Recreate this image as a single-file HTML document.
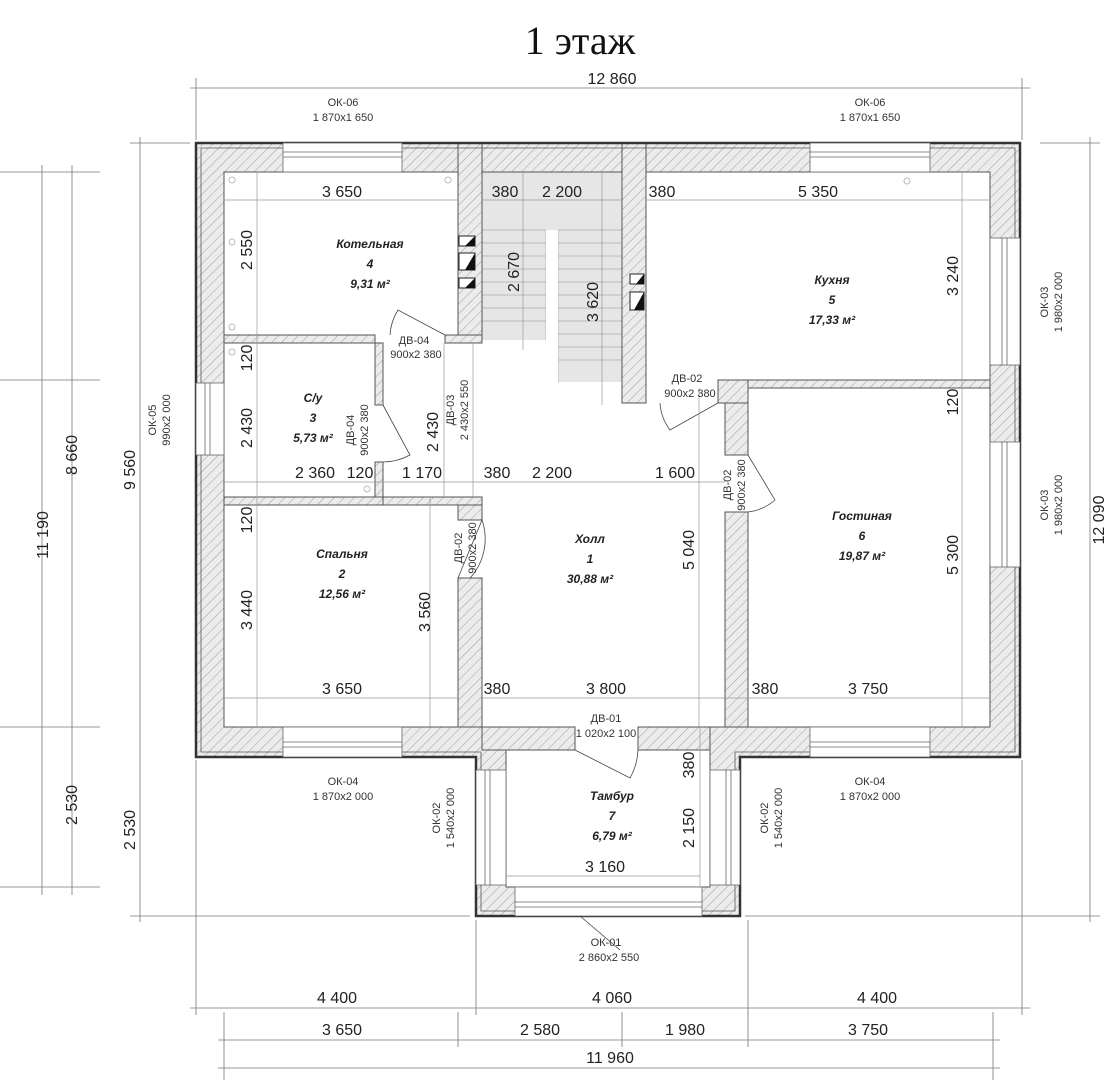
<!DOCTYPE html>
<html><head><meta charset="utf-8"><style>
body{margin:0;background:#fff}
svg{display:block}
.d{font-family:"Liberation Sans",sans-serif;font-size:16px;fill:#222}
.l{font-family:"Liberation Sans",sans-serif;font-size:11px;fill:#333}
.r{font-family:"Liberation Sans",sans-serif;font-size:12px;font-weight:bold;font-style:italic;fill:#222}
</style></head><body>
<svg width="1118" height="1080" viewBox="0 0 1118 1080" xmlns="http://www.w3.org/2000/svg">
<defs>
<pattern id="h" width="7" height="7" patternUnits="userSpaceOnUse" patternTransform="rotate(45)">
<rect width="7" height="7" fill="#ececec"/><line x1="0" y1="0" x2="0" y2="7" stroke="#8a8a8a" stroke-width="0.8"/>
</pattern>
</defs>
<text x="580" y="54" text-anchor="middle" font-family="Liberation Serif,serif" font-size="40" fill="#111">1 этаж</text>

<!-- stair grey -->
<rect x="482" y="172" width="140" height="210" fill="#e6e6e6"/>
<rect x="482" y="172" width="140" height="58" fill="#e6e6e6"/>
<g stroke="#aaa" stroke-width="0.8">
<line x1="546" y1="230" x2="546" y2="340"/><line x1="558" y1="230" x2="558" y2="383"/>
<line x1="482" y1="230" x2="546" y2="230"/><line x1="558" y1="230" x2="622" y2="230"/>
<line x1="482" y1="243" x2="546" y2="243"/><line x1="482" y1="256" x2="546" y2="256"/><line x1="482" y1="269" x2="546" y2="269"/><line x1="482" y1="282" x2="546" y2="282"/><line x1="482" y1="295" x2="546" y2="295"/><line x1="482" y1="308" x2="546" y2="308"/><line x1="482" y1="321" x2="546" y2="321"/>
<line x1="558" y1="243" x2="622" y2="243"/><line x1="558" y1="256" x2="622" y2="256"/><line x1="558" y1="269" x2="622" y2="269"/><line x1="558" y1="282" x2="622" y2="282"/><line x1="558" y1="295" x2="622" y2="295"/><line x1="558" y1="308" x2="622" y2="308"/><line x1="558" y1="321" x2="622" y2="321"/><line x1="558" y1="334" x2="622" y2="334"/><line x1="558" y1="347" x2="622" y2="347"/><line x1="558" y1="360" x2="622" y2="360"/>
</g>
<rect x="482" y="340" width="76" height="43" fill="#fff"/>
<rect x="546" y="230" width="12" height="110" fill="#fff"/>

<!-- walls -->
<g fill="url(#h)" stroke="#555" stroke-width="1">
<!-- outer ring -->
<path d="M196 143 H1020 V757 H740 V916 H476 V757 H196 Z M224 172 V727 H506 V887 H710 V727 H990 V172 Z" fill-rule="evenodd"/>
<!-- interior -->
<rect x="458" y="143" width="24" height="200"/>
<rect x="224" y="335" width="151" height="8"/>
<rect x="445" y="335" width="37" height="8"/>
<rect x="375" y="343" width="8" height="62"/>
<rect x="375" y="462" width="8" height="43"/>
<rect x="224" y="497" width="159" height="8"/>
<rect x="383" y="497" width="99" height="8"/>
<rect x="458" y="505" width="24" height="15"/>
<rect x="458" y="578" width="24" height="149"/>
<rect x="622" y="143" width="24" height="260"/>
<rect x="718" y="380" width="30" height="23"/>
<rect x="725" y="403" width="23" height="52"/>
<rect x="725" y="512" width="23" height="215"/>
<rect x="748" y="380" width="242" height="8"/>
<rect x="482" y="727" width="93" height="23"/>
<rect x="638" y="727" width="72" height="23"/>
</g>
<!-- outer dark edge -->
<path d="M196 143 H1020 V757 H740 V916 H476 V757 H196 Z" fill="none" stroke="#333" stroke-width="2.5"/>
<path d="M201 148 H1015 V752 H735 V911 H481 V752 H201 Z" fill="none" stroke="#555" stroke-width="0.8"/>

<!-- windows -->
<g fill="#fff" stroke="#666" stroke-width="0.8">
<rect x="283" y="143" width="119" height="29"/><line x1="283" y1="152" x2="402" y2="152"/><line x1="283" y1="157" x2="402" y2="157"/>
<rect x="810" y="143" width="120" height="29"/><line x1="810" y1="152" x2="930" y2="152"/><line x1="810" y1="157" x2="930" y2="157"/>
<rect x="283" y="727" width="119" height="30"/><line x1="283" y1="742" x2="402" y2="742"/><line x1="283" y1="747" x2="402" y2="747"/>
<rect x="810" y="727" width="120" height="30"/><line x1="810" y1="742" x2="930" y2="742"/><line x1="810" y1="747" x2="930" y2="747"/>
<rect x="196" y="383" width="28" height="72"/><line x1="205" y1="383" x2="205" y2="455"/><line x1="210" y1="383" x2="210" y2="455"/>
<rect x="990" y="238" width="30" height="127"/><line x1="1002" y1="238" x2="1002" y2="365"/><line x1="1007" y1="238" x2="1007" y2="365"/>
<rect x="990" y="442" width="30" height="125"/><line x1="1002" y1="442" x2="1002" y2="567"/><line x1="1007" y1="442" x2="1007" y2="567"/>
<rect x="476" y="770" width="30" height="115"/><line x1="485" y1="770" x2="485" y2="885"/><line x1="490" y1="770" x2="490" y2="885"/>
<rect x="710" y="770" width="30" height="115"/><line x1="726" y1="770" x2="726" y2="885"/><line x1="731" y1="770" x2="731" y2="885"/>
<rect x="515" y="887" width="187" height="29"/><line x1="515" y1="902" x2="702" y2="902"/><line x1="515" y1="907" x2="702" y2="907"/>
</g>

<!-- doors -->
<g fill="none" stroke="#444" stroke-width="0.8">
<path d="M445 335 L398 310 A53 53 0 0 0 390 335"/>
<path d="M383 405 L410 455 A57 57 0 0 1 383 462"/>
<path d="M482 520 L458 578 M482 520 A58 58 0 0 1 470 578"/>
<path d="M718 403 L670 430 A50 50 0 0 1 660 403"/>
<path d="M748 455 L775 500 A50 50 0 0 1 748 512"/>
<path d="M575 750 L630 778 A62 62 0 0 0 638 750"/>
<path d="M580 916 L620 950"/>
</g>
<!-- vent blocks -->
<g fill="#fff" stroke="#222" stroke-width="1">
<rect x="459" y="236" width="16" height="10"/><rect x="459" y="253" width="16" height="17"/><rect x="459" y="278" width="16" height="10"/>
<rect x="630" y="274" width="14" height="10"/><rect x="630" y="292" width="14" height="18"/>
</g>
<g fill="#111"><path d="M475 236 V246 H465Z"/><path d="M475 253 V270 H465Z"/><path d="M475 278 V288 H465Z"/><path d="M644 274 V284 H636Z"/><path d="M644 292 V310 H634Z"/></g>
<g fill="none" stroke="#bbb"><circle cx="232" cy="180" r="3"/><circle cx="448" cy="180" r="3"/><circle cx="232" cy="242" r="3"/><circle cx="232" cy="327" r="3"/><circle cx="232" cy="352" r="3"/><circle cx="367" cy="489" r="3"/><circle cx="907" cy="181" r="3"/></g>

<!-- inner dimension lines -->
<g stroke="#999" stroke-width="0.7">
<line x1="224" y1="200" x2="458" y2="200"/><line x1="482" y1="200" x2="622" y2="200"/><line x1="646" y1="200" x2="990" y2="200"/>
<line x1="224" y1="482" x2="725" y2="482"/>
<line x1="224" y1="698" x2="458" y2="698"/><line x1="482" y1="698" x2="990" y2="698"/>
<line x1="506" y1="876" x2="700" y2="876"/>
<line x1="257" y1="172" x2="257" y2="727"/><line x1="430" y1="497" x2="430" y2="727"/>
<line x1="444" y1="343" x2="444" y2="497"/><line x1="473" y1="343" x2="473" y2="497"/>
<line x1="523" y1="172" x2="523" y2="350"/><line x1="602" y1="172" x2="602" y2="405"/>
<line x1="962" y1="172" x2="962" y2="727"/><line x1="699" y1="388" x2="699" y2="727"/><line x1="700" y1="727" x2="700" y2="887"/>
</g>
<g class="d">
<text x="342" y="197" text-anchor="middle">3 650</text>
<text x="505" y="197" text-anchor="middle">380</text><text x="562" y="197" text-anchor="middle">2 200</text>
<text x="662" y="197" text-anchor="middle">380</text><text x="818" y="197" text-anchor="middle">5 350</text>
<text x="315" y="478" text-anchor="middle">2 360</text><text x="360" y="478" text-anchor="middle">120</text><text x="422" y="478" text-anchor="middle">1 170</text>
<text x="497" y="478" text-anchor="middle">380</text><text x="552" y="478" text-anchor="middle">2 200</text><text x="675" y="478" text-anchor="middle">1 600</text>
<text x="342" y="694" text-anchor="middle">3 650</text><text x="497" y="694" text-anchor="middle">380</text><text x="606" y="694" text-anchor="middle">3 800</text>
<text x="765" y="694" text-anchor="middle">380</text><text x="868" y="694" text-anchor="middle">3 750</text>
<text x="605" y="872" text-anchor="middle">3 160</text>
<text transform="translate(252,250) rotate(-90)" text-anchor="middle">2 550</text>
<text transform="translate(252,358) rotate(-90)" text-anchor="middle">120</text>
<text transform="translate(252,428) rotate(-90)" text-anchor="middle">2 430</text>
<text transform="translate(252,520) rotate(-90)" text-anchor="middle">120</text>
<text transform="translate(252,610) rotate(-90)" text-anchor="middle">3 440</text>
<text transform="translate(430,612) rotate(-90)" text-anchor="middle">3 560</text>
<text transform="translate(438,432) rotate(-90)" text-anchor="middle">2 430</text>
<text transform="translate(519,272) rotate(-90)" text-anchor="middle">2 670</text>
<text transform="translate(598,302) rotate(-90)" text-anchor="middle">3 620</text>
<text transform="translate(694,550) rotate(-90)" text-anchor="middle">5 040</text>
<text transform="translate(694,765) rotate(-90)" text-anchor="middle">380</text>
<text transform="translate(694,828) rotate(-90)" text-anchor="middle">2 150</text>
<text transform="translate(958,276) rotate(-90)" text-anchor="middle">3 240</text>
<text transform="translate(958,402) rotate(-90)" text-anchor="middle">120</text>
<text transform="translate(958,555) rotate(-90)" text-anchor="middle">5 300</text>
</g>

<!-- room labels -->
<g class="r" text-anchor="middle">
<text x="370" y="248">Котельная</text><text x="370" y="268">4</text><text x="370" y="288">9,31 м²</text>
<text x="313" y="402">С/у</text><text x="313" y="422">3</text><text x="313" y="442">5,73 м²</text>
<text x="342" y="558">Спальня</text><text x="342" y="578">2</text><text x="342" y="598">12,56 м²</text>
<text x="590" y="543">Холл</text><text x="590" y="563">1</text><text x="590" y="583">30,88 м²</text>
<text x="832" y="284">Кухня</text><text x="832" y="304">5</text><text x="832" y="324">17,33 м²</text>
<text x="862" y="520">Гостиная</text><text x="862" y="540">6</text><text x="862" y="560">19,87 м²</text>
<text x="612" y="800">Тамбур</text><text x="612" y="820">7</text><text x="612" y="840">6,79 м²</text>
</g>

<!-- element labels -->
<g class="l" text-anchor="middle">
<text x="343" y="106">ОК-06</text><text x="343" y="121">1 870х1 650</text>
<text x="870" y="106">ОК-06</text><text x="870" y="121">1 870х1 650</text>
<text x="343" y="785">ОК-04</text><text x="343" y="800">1 870х2 000</text>
<text x="870" y="785">ОК-04</text><text x="870" y="800">1 870х2 000</text>
<text x="414" y="344">ДВ-04</text><text x="416" y="358">900х2 380</text>
<text x="687" y="382">ДВ-02</text><text x="690" y="397">900х2 380</text>
<text x="606" y="722">ДВ-01</text><text x="606" y="737">1 020х2 100</text>
<text x="606" y="946">ОК-01</text><text x="609" y="961">2 860х2 550</text>
<text transform="translate(354,430) rotate(-90)">ДВ-04</text><text transform="translate(368,430) rotate(-90)">900х2 380</text>
<text transform="translate(454,410) rotate(-90)">ДВ-03</text><text transform="translate(468,410) rotate(-90)">2 430х2 550</text>
<text transform="translate(462,548) rotate(-90)">ДВ-02</text><text transform="translate(476,548) rotate(-90)">900х2 380</text>
<text transform="translate(731,485) rotate(-90)">ДВ-02</text><text transform="translate(745,485) rotate(-90)">900х2 380</text>
<text transform="translate(156,420) rotate(-90)">ОК-05</text><text transform="translate(170,420) rotate(-90)">990х2 000</text>
<text transform="translate(1048,302) rotate(-90)">ОК-03</text><text transform="translate(1062,302) rotate(-90)">1 980х2 000</text>
<text transform="translate(1048,505) rotate(-90)">ОК-03</text><text transform="translate(1062,505) rotate(-90)">1 980х2 000</text>
<text transform="translate(440,818) rotate(-90)">ОК-02</text><text transform="translate(454,818) rotate(-90)">1 540х2 000</text>
<text transform="translate(768,818) rotate(-90)">ОК-02</text><text transform="translate(782,818) rotate(-90)">1 540х2 000</text>
</g>

<!-- outer dimension lines -->
<g stroke="#777" stroke-width="0.8">
<line x1="190" y1="88" x2="1030" y2="88"/><line x1="196" y1="78" x2="196" y2="140"/><line x1="1022" y1="78" x2="1022" y2="140"/>
<line x1="1090" y1="137" x2="1090" y2="922"/><line x1="1040" y1="143" x2="1100" y2="143"/><line x1="745" y1="916" x2="1100" y2="916"/>
<line x1="140" y1="137" x2="140" y2="922"/><line x1="130" y1="143" x2="190" y2="143"/><line x1="130" y1="916" x2="470" y2="916"/>
<line x1="0" y1="172" x2="100" y2="172"/><line x1="0" y1="380" x2="100" y2="380"/><line x1="0" y1="727" x2="100" y2="727"/><line x1="0" y1="887" x2="100" y2="887"/>
<line x1="42" y1="165" x2="42" y2="895"/><line x1="72" y1="165" x2="72" y2="895"/>
<line x1="190" y1="1008" x2="1030" y2="1008"/>
<line x1="196" y1="760" x2="196" y2="1015"/><line x1="476" y1="920" x2="476" y2="1015"/><line x1="748" y1="920" x2="748" y2="1015"/><line x1="1022" y1="760" x2="1022" y2="1015"/>
<line x1="218" y1="1040" x2="1000" y2="1040"/>
<line x1="224" y1="1012" x2="224" y2="1080"/><line x1="458" y1="1012" x2="458" y2="1047"/><line x1="622" y1="1012" x2="622" y2="1047"/><line x1="748" y1="1012" x2="748" y2="1047"/><line x1="993" y1="1012" x2="993" y2="1080"/>
<line x1="218" y1="1068" x2="1000" y2="1068"/>
</g>
<g class="d">
<text x="612" y="84" text-anchor="middle">12 860</text>
<text x="337" y="1003" text-anchor="middle">4 400</text><text x="612" y="1003" text-anchor="middle">4 060</text><text x="877" y="1003" text-anchor="middle">4 400</text>
<text x="342" y="1035" text-anchor="middle">3 650</text><text x="540" y="1035" text-anchor="middle">2 580</text><text x="685" y="1035" text-anchor="middle">1 980</text><text x="868" y="1035" text-anchor="middle">3 750</text>
<text x="610" y="1063" text-anchor="middle">11 960</text>
<text transform="translate(135,470) rotate(-90)" text-anchor="middle">9 560</text>
<text transform="translate(135,830) rotate(-90)" text-anchor="middle">2 530</text>
<text transform="translate(48,535) rotate(-90)" text-anchor="middle">11 190</text>
<text transform="translate(77,455) rotate(-90)" text-anchor="middle">8 660</text>
<text transform="translate(77,805) rotate(-90)" text-anchor="middle">2 530</text>
<text transform="translate(1104,520) rotate(-90)" text-anchor="middle">12 090</text>
</g>
</svg>
</body></html>
